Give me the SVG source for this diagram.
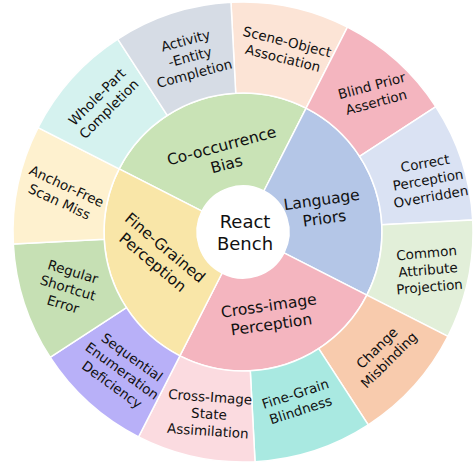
<svg xmlns="http://www.w3.org/2000/svg" width="473" height="466" viewBox="0 0 473 466">
<style>
.seg{stroke:#ffffff;stroke-width:1.5;stroke-linejoin:round}
text{font-family:"DejaVu Sans","Liberation Sans",sans-serif;fill:#111111;text-anchor:middle}
.in{font-size:15.5px}
.out{font-size:13.5px}
.ctr{font-size:18px}
</style>
<rect width="473" height="466" fill="#ffffff"/>
<g id="connectors"/>
<g id="inner-ring">
<g id="cooccurrence-bias">
<path class="seg" fill="#c9e3b6" d="M119.15,168.89 A139,139 0 0 1 306.11,108.15 L263.88,191.01 A46,46 0 0 0 202.01,211.12 Z"/>
<g transform="translate(224,155) rotate(-15)"><text class="in" y="-4.1">Co-occurrence</text><text class="in" y="14.9">Bias</text></g>
</g>
<g id="language-priors">
<path class="seg" fill="#b4c6e7" d="M306.11,108.15 A139,139 0 0 1 366.85,295.11 L283.99,252.88 A46,46 0 0 0 263.88,191.01 Z"/>
<g transform="translate(323,209) rotate(-8)"><text class="in" y="-4.1">Language</text><text class="in" y="14.9">Priors</text></g>
</g>
<g id="cross-image-perception">
<path class="seg" fill="#f4b5bf" d="M366.85,295.11 A139,139 0 0 1 179.89,355.85 L222.12,272.99 A46,46 0 0 0 283.99,252.88 Z"/>
<g transform="translate(270,315) rotate(-8)"><text class="in" y="-4.1">Cross-image</text><text class="in" y="14.9">Perception</text></g>
</g>
<g id="fine-grained-perception">
<path class="seg" fill="#f9e6a8" d="M179.89,355.85 A139,139 0 0 1 119.15,168.89 L202.01,211.12 A46,46 0 0 0 222.12,272.99 Z"/>
<g transform="translate(159,255) rotate(40)"><text class="in" y="-4.1">Fine-Grained</text><text class="in" y="14.9">Perception</text></g>
</g>
</g>
<g id="react-bench">
<circle cx="243" cy="232" r="46" fill="#ffffff"/>
<g transform="translate(245,232.5)"><text class="ctr" y="-4.7">React</text><text class="ctr" y="17.3">Bench</text></g>
</g>
<g id="outer-ring">
<g id="scene-object-association">
<path class="seg" fill="#fce4d6" d="M230.97,2.32 A230,230 0 0 1 347.42,27.07 L306.11,108.15 A139,139 0 0 0 235.73,93.19 Z"/>
<g transform="translate(285,50) rotate(14)"><text class="out" y="-3.8">Scene-Object</text><text class="out" y="13.2">Association</text></g>
</g>
<g id="blind-prior-assertion">
<path class="seg" fill="#f4b5bf" d="M347.42,27.07 A230,230 0 0 1 435.90,106.74 L359.58,156.30 A139,139 0 0 0 306.11,108.15 Z"/>
<g transform="translate(374,94) rotate(-15)"><text class="out" y="-3.8">Blind Prior</text><text class="out" y="13.2">Assertion</text></g>
</g>
<g id="correct-perception-overridden">
<path class="seg" fill="#dae2f3" d="M435.90,106.74 A230,230 0 0 1 472.68,219.97 L381.81,224.73 A139,139 0 0 0 359.58,156.30 Z"/>
<g transform="translate(428,180) rotate(-10)"><text class="out" y="-12.3">Correct</text><text class="out" y="4.7">Perception</text><text class="out" y="21.7">Overridden</text></g>
</g>
<g id="common-attribute-projection">
<path class="seg" fill="#e2efd9" d="M472.68,219.97 A230,230 0 0 1 447.93,336.42 L366.85,295.11 A139,139 0 0 0 381.81,224.73 Z"/>
<g transform="translate(428,270) rotate(-5)"><text class="out" y="-12.3">Common</text><text class="out" y="4.7">Attribute</text><text class="out" y="21.7">Projection</text></g>
</g>
<g id="change-misbinding">
<path class="seg" fill="#f8cbad" d="M447.93,336.42 A230,230 0 0 1 368.26,424.90 L318.70,348.58 A139,139 0 0 0 366.85,295.11 Z"/>
<g transform="translate(383,354) rotate(-45)"><text class="out" y="-3.8">Change</text><text class="out" y="13.2">Misbinding</text></g>
</g>
<g id="fine-grain-blindness">
<path class="seg" fill="#a9e9e1" d="M368.26,424.90 A230,230 0 0 1 255.03,461.68 L250.27,370.81 A139,139 0 0 0 318.70,348.58 Z"/>
<g transform="translate(298,402) rotate(-18)"><text class="out" y="-3.8">Fine-Grain</text><text class="out" y="13.2">Blindness</text></g>
</g>
<g id="cross-image-state-assimilation">
<path class="seg" fill="#fbdbe0" d="M255.03,461.68 A230,230 0 0 1 138.58,436.93 L179.89,355.85 A139,139 0 0 0 250.27,370.81 Z"/>
<g transform="translate(209,414) rotate(4)"><text class="out" y="-12.3">Cross-Image</text><text class="out" y="4.7">State</text><text class="out" y="21.7">Assimilation</text></g>
</g>
<g id="sequential-enumeration-deficiency">
<path class="seg" fill="#b8b0f8" d="M138.58,436.93 A230,230 0 0 1 50.10,357.26 L126.42,307.70 A139,139 0 0 0 179.89,355.85 Z"/>
<g transform="translate(122,371) rotate(36)"><text class="out" y="-12.3">Sequential</text><text class="out" y="4.7">Enumeration</text><text class="out" y="21.7">Deficiency</text></g>
</g>
<g id="regular-shortcut-error">
<path class="seg" fill="#c6e0b4" d="M50.10,357.26 A230,230 0 0 1 13.32,244.03 L104.19,239.27 A139,139 0 0 0 126.42,307.70 Z"/>
<g transform="translate(68,288) rotate(17)"><text class="out" y="-12.3">Regular</text><text class="out" y="4.7">Shortcut</text><text class="out" y="21.7">Error</text></g>
</g>
<g id="anchor-free-scan-miss">
<path class="seg" fill="#fef1cf" d="M13.32,244.03 A230,230 0 0 1 38.07,127.58 L119.15,168.89 A139,139 0 0 0 104.19,239.27 Z"/>
<g transform="translate(63,194) rotate(25)"><text class="out" y="-3.8">Anchor-Free</text><text class="out" y="13.2">Scan Miss</text></g>
</g>
<g id="whole-part-completion">
<path class="seg" fill="#d5f2ef" d="M38.07,127.58 A230,230 0 0 1 117.74,39.10 L167.30,115.42 A139,139 0 0 0 119.15,168.89 Z"/>
<g transform="translate(103,103) rotate(-45)"><text class="out" y="-3.8">Whole-Part</text><text class="out" y="13.2">Completion</text></g>
</g>
<g id="activity-entity-completion">
<path class="seg" fill="#d6dce5" d="M117.74,39.10 A230,230 0 0 1 230.97,2.32 L235.73,93.19 A139,139 0 0 0 167.30,115.42 Z"/>
<g transform="translate(190,57) rotate(-15)"><text class="out" y="-12.3">Activity</text><text class="out" y="4.7">-Entity</text><text class="out" y="21.7">Completion</text></g>
</g>
</g>
</svg>
